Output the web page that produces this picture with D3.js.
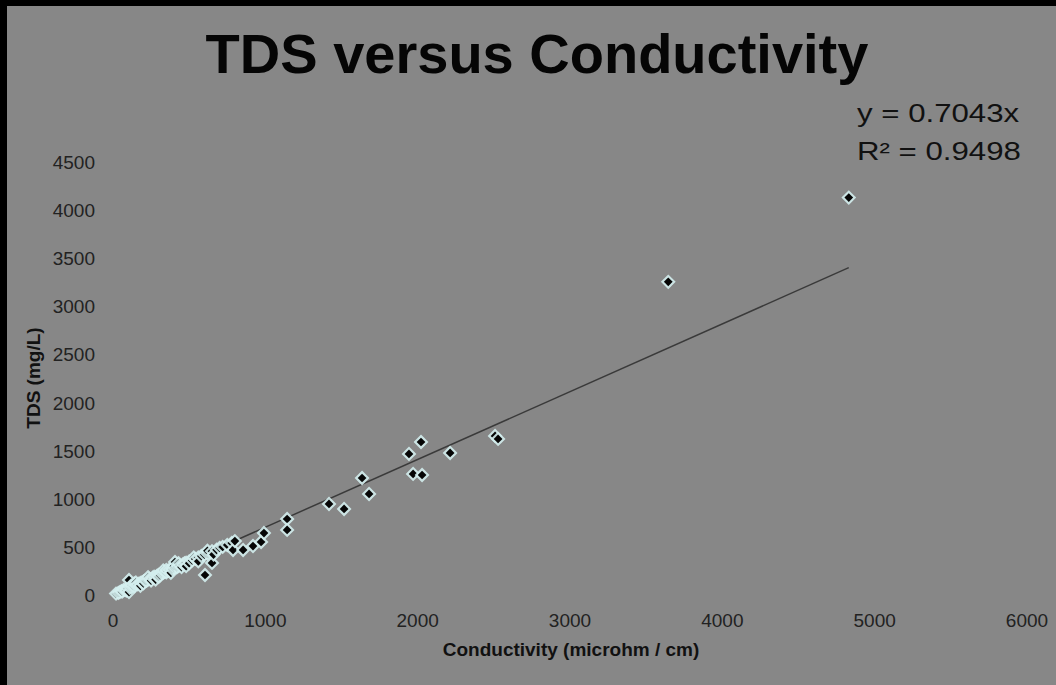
<!DOCTYPE html>
<html>
<head>
<meta charset="utf-8">
<script src="https://cdn.jsdelivr.net/npm/d3@7"></script>
<style>
  html, body { margin: 0; padding: 0; background: #000; }
  svg { display: block; }
  text { font-family: "Liberation Sans", Arial, sans-serif; }
</style>
</head>
<body>
<div id="chart"></div>
<script>
// conductivity (microhm / cm) of each sample
var conductivity = [20, 35, 45, 55, 60, 70, 80, 90, 95, 105, 105, 110, 120, 120, 130, 140,
    150, 150, 160, 170, 180, 190, 200, 200, 210, 220, 230, 240, 250, 250, 260, 270, 280,
    290, 300, 300, 310, 320, 330, 340, 350, 350, 360, 370, 380, 390, 400, 400, 407, 420,
    430, 440, 450, 460, 470, 480, 500, 500, 520, 540, 560, 580, 600, 604, 620, 650, 650,
    680, 700, 720, 750, 780, 788, 800, 854, 919, 972, 991, 1143, 1143, 1418, 1517, 1635,
    1681, 1943, 1970, 2022, 2029, 2213, 2508, 2528, 3645, 4830,
    90, 140, 180, 230, 280, 330, 380, 430, 480, 530, 560, 620, 660];
// TDS (mg/L) of each sample
var tds = [15, 22, 30, 40, 35, 52, 50, 60, 70, 156, 31, 75, 80, 100, 95, 92,
    105, 130, 110, 118, 125, 130, 140, 120, 150, 148, 160, 170, 165, 150, 180, 190, 185,
    200, 210, 190, 205, 225, 230, 240, 235, 260, 250, 262, 255, 270, 280, 300, 343, 290,
    300, 310, 290, 320, 330, 335, 350, 330, 360, 375, 390, 405, 420, 208, 430, 455, 333,
    470, 490, 500, 520, 540, 468, 560, 468, 509, 551, 644, 790, 676, 946, 894, 1216,
    1050, 1466, 1258, 1590, 1247, 1476, 1653, 1622, 3255, 4130,
    45, 120, 95, 185, 160, 255, 230, 330, 300, 390, 350, 460, 420];
var slope = 0.7043;
var xTicks = [0, 1000, 2000, 3000, 4000, 5000, 6000];
var yTicks = [0, 500, 1000, 1500, 2000, 2500, 3000, 3500, 4000, 4500];

var W = 1056, H = 685;
var svg = d3.select("#chart").append("svg")
    .attr("width", W).attr("height", H);

// gray chart area inside the black frame
svg.append("rect").attr("x", 7).attr("y", 6).attr("width", W - 7).attr("height", H - 6)
    .attr("fill", "#878787");

var x = d3.scaleLinear().domain([0, 6000]).range([113, 1027]);
var y = d3.scaleLinear().domain([0, 4500]).range([595, 162]);

// title
svg.append("text").attr("x", 537).attr("y", 73).attr("text-anchor", "middle")
    .attr("font-size", 56).attr("font-weight", "bold").attr("fill", "#050505")
    .text("TDS versus Conductivity");

// tick labels (no axis lines in the original)
svg.selectAll(".xt").data(xTicks).enter().append("text")
    .attr("class", "xt")
    .attr("x", function(d) { return x(d); }).attr("y", 627)
    .attr("text-anchor", "middle").attr("font-size", 19).attr("fill", "#222")
    .text(function(d) { return d; });

svg.selectAll(".yt").data(yTicks).enter().append("text")
    .attr("class", "yt")
    .attr("x", 95).attr("y", function(d) { return y(d) + 7; })
    .attr("text-anchor", "end").attr("font-size", 19).attr("fill", "#222")
    .text(function(d) { return d; });

// axis titles
svg.append("text").attr("x", 571).attr("y", 656).attr("text-anchor", "middle")
    .attr("font-size", 19).attr("font-weight", "bold").attr("fill", "#111")
    .text("Conductivity (microhm / cm)");

svg.append("text").attr("transform", "translate(40,378) rotate(-90)")
    .attr("text-anchor", "middle").attr("font-size", 19).attr("font-weight", "bold")
    .attr("fill", "#111").text("TDS (mg/L)");

// linear trendline through the origin, over the data range
var xr = d3.extent(conductivity);
svg.append("line")
    .attr("x1", x(xr[0])).attr("y1", y(slope * xr[0]))
    .attr("x2", x(xr[1])).attr("y2", y(slope * xr[1]))
    .attr("stroke", "#3a3a3a").attr("stroke-width", 1.5);

// markers: black square diamonds with a pale cyan halo, drawn left to right
// so the halos of the dense low-end samples overlap into a pale band
var pts = conductivity.map(function(c, i) { return [c, tds[i]]; })
    .sort(function(a, b) { return a[0] - b[0]; });
var halo = d3.symbol().type(d3.symbolSquare).size(110)();
var core = d3.symbol().type(d3.symbolSquare).size(38)();

var mark = svg.append("g").selectAll("g").data(pts).enter().append("g")
    .attr("transform", function(d) {
        return "translate(" + x(d[0]) + "," + y(d[1]) + ") rotate(45)";
    });
mark.append("path").attr("d", halo).attr("fill", "#d4eeee").attr("opacity", 0.9);
mark.append("path").attr("d", core).attr("fill", "#050505");

// equation label, glyphs a little wider than plain Arial
svg.append("text").attr("transform", "translate(857,122) scale(1.2,1)")
    .attr("font-size", 26).attr("fill", "#111")
    .text("y = " + slope + "x");
svg.append("text").attr("transform", "translate(857,160) scale(1.2,1)")
    .attr("font-size", 26).attr("fill", "#111")
    .text("R² = 0.9498");
</script>
</body>
</html>
